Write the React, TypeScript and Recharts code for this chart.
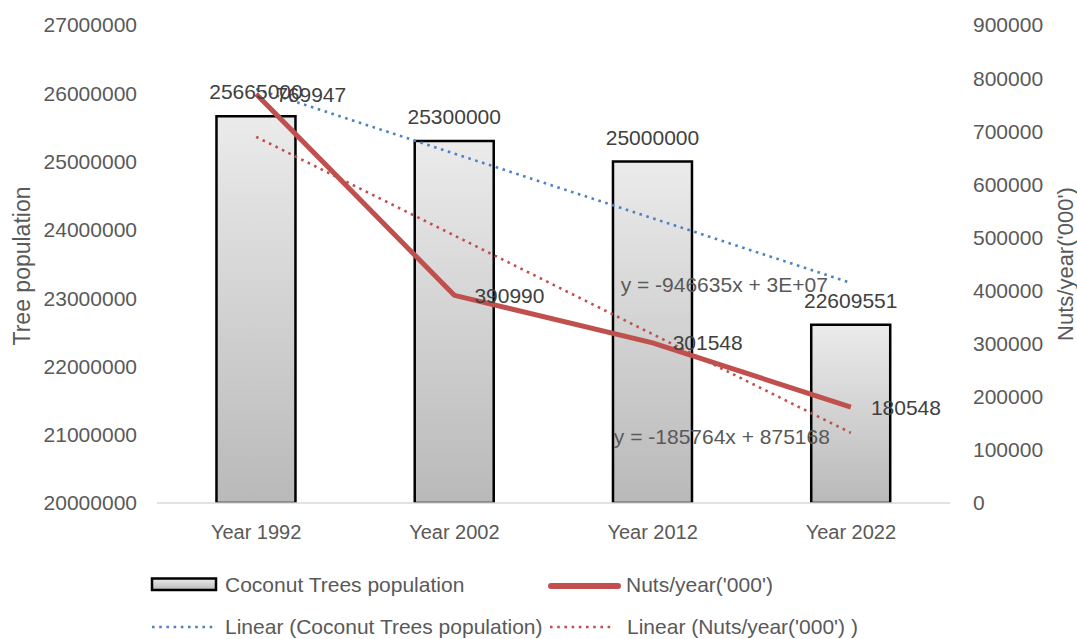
import React from 'react';
import { ComposedChart, Bar, Line, XAxis, YAxis, LabelList } from 'recharts';

const categories = ['Year 1992', 'Year 2002', 'Year 2012', 'Year 2022'];
const treePopulation = [25665000, 25300000, 25000000, 22609551];
const nutsPerYear = [769947, 390990, 301548, 180548];
// Trend-line values read from the displayed regression equations
const treeTrend = [26063590, 25116955, 24170320, 23223685];
const nutsTrend = [689404, 503640, 317876, 132112];
const leftTicks = [20000000, 21000000, 22000000, 23000000, 24000000, 25000000, 26000000, 27000000];
const rightTicks = [0, 100000, 200000, 300000, 400000, 500000, 600000, 700000, 800000, 900000];
const treeEquation = 'y = -946635x + 3E+07';
const nutsEquation = 'y = -185764x + 875168';
const seriesNames = ['Coconut Trees population', "Nuts/year('000')", 'Linear (Coconut Trees population)', "Linear (Nuts/year('000') )"];
const axisTitles = ['Tree population', "Nuts/year('000')"];

const data = categories.map((c, i) => ({
  name: c,
  trees: treePopulation[i],
  nuts: nutsPerYear[i],
  treeTrend: treeTrend[i],
  nutsTrend: nutsTrend[i],
}));

const FONT = '"Liberation Sans", Arial, sans-serif';
const TICK_COLOR = '#595959';
const LABEL_COLOR = '#404040';
const RED = '#c0504d';
const BLUE = '#4f81bd';

const makeEqLabel = (text: string, dx: number, dy: number) => (props: any) => {
  const { x, y, index } = props;
  if (index !== categories.length - 1) return null;
  return (
    <text x={x + dx} y={y + dy} textAnchor="end" dominantBaseline="central"
      fill={TICK_COLOR} fontSize={21} fontFamily={FONT}>{text}</text>
  );
};

const LeftTitle = (props: any) => {
  const vb = props.viewBox || {};
  const cx = vb.x - 15;
  const cy = vb.y + vb.height / 2 + 2;
  return (
    <text x={cx} y={cy} transform={`rotate(-90 ${cx} ${cy})`} textAnchor="middle" dominantBaseline="central"
      fill={TICK_COLOR} fontSize={23} fontFamily={FONT}>{axisTitles[0]}</text>
  );
};

const RightTitle = (props: any) => {
  const vb = props.viewBox || {};
  const cx = vb.x + vb.width + 25;
  const cy = vb.y + vb.height / 2;
  return (
    <text x={cx} y={cy} transform={`rotate(-90 ${cx} ${cy})`} textAnchor="middle" dominantBaseline="central"
      fill={TICK_COLOR} fontSize={22} fontFamily={FONT}>{axisTitles[1]}</text>
  );
};

const legendText: React.CSSProperties = {
  position: 'absolute', fontFamily: FONT, fontSize: 21, color: TICK_COLOR, lineHeight: '24px', whiteSpace: 'nowrap',
};

export default function App() {
  return (
    <div style={{ position: 'absolute', left: 0, top: 0, width: 1077, height: 639, background: '#fff' }}>
      <ComposedChart width={1077} height={639} data={data}
        margin={{ top: 25, right: 37, bottom: 96, left: 37 }}
        barCategoryGap="30%">
        <defs>
          <linearGradient id="barGrad" x1="0" y1="0" x2="0" y2="1">
            <stop offset="0%" stopColor="#ebebeb" />
            <stop offset="100%" stopColor="#b9b9b9" />
          </linearGradient>
        </defs>
        <XAxis dataKey="name" height={40} tickLine={false} tickSize={0} tickMargin={22}
          axisLine={{ stroke: '#d9d9d9', strokeWidth: 1.5 }}
          tick={{ fill: TICK_COLOR, fontSize: 20, fontFamily: FONT }} />
        <YAxis yAxisId="left" orientation="left" width={120} domain={[20000000, 27000000]} ticks={leftTicks}
          interval={0} axisLine={false} tickLine={false} tickSize={0} tickMargin={20} allowDataOverflow
          tick={{ fill: TICK_COLOR, fontSize: 21, fontFamily: FONT }}
          label={{ content: <LeftTitle /> } as any} />
        <YAxis yAxisId="right" orientation="right" width={90} domain={[0, 900000]} ticks={rightTicks}
          interval={0} axisLine={false} tickLine={false} tickSize={0} tickMargin={23} allowDataOverflow
          tick={{ fill: TICK_COLOR, fontSize: 21, fontFamily: FONT }}
          label={{ content: <RightTitle /> } as any} />
        <Bar yAxisId="left" dataKey="trees" name={seriesNames[0]} fill="url(#barGrad)" stroke="#000" strokeWidth={2.5}
          isAnimationActive={false}>
          <LabelList dataKey="trees" position="top" offset={17} fill={LABEL_COLOR} fontSize={21} fontFamily={FONT} />
        </Bar>
        <Line yAxisId="right" dataKey="nuts" name={seriesNames[1]} stroke={RED} strokeWidth={5} dot={false}
          type="linear" isAnimationActive={false}>
          <LabelList dataKey="nuts" position="right" offset={20} fill={LABEL_COLOR} fontSize={21} fontFamily={FONT} />
        </Line>
        <Line yAxisId="left" dataKey="treeTrend" name={seriesNames[2]} stroke={BLUE} strokeWidth={2.6}
          strokeDasharray="2.6 4.6" dot={false} type="linear" isAnimationActive={false}>
          <LabelList dataKey="treeTrend" content={makeEqLabel(treeEquation, -23, 2)} />
        </Line>
        <Line yAxisId="right" dataKey="nutsTrend" name={seriesNames[3]} stroke={RED} strokeWidth={2.6}
          strokeDasharray="2.6 4.6" dot={false} type="linear" isAnimationActive={false}>
          <LabelList dataKey="nutsTrend" content={makeEqLabel(nutsEquation, -21, 4)} />
        </Line>
      </ComposedChart>

      {/* Legend */}
      <svg style={{ position: 'absolute', left: 150, top: 576 }} width={70} height={17}>
        <defs>
          <linearGradient id="legGrad" x1="0" y1="0" x2="0" y2="1">
            <stop offset="0%" stopColor="#ebebeb" />
            <stop offset="100%" stopColor="#b9b9b9" />
          </linearGradient>
        </defs>
        <rect x={2} y={2.5} width={64} height={11.5} fill="url(#legGrad)" stroke="#000" strokeWidth={2.5} />
      </svg>
      <div style={{ ...legendText, left: 225, top: 573 }}>{seriesNames[0]}</div>

      <svg style={{ position: 'absolute', left: 548, top: 578 }} width={74} height={16}>
        <line x1={3} y1={8} x2={70} y2={8} stroke={RED} strokeWidth={6} strokeLinecap="round" />
      </svg>
      <div style={{ ...legendText, left: 626, top: 573 }}>{seriesNames[1]}</div>

      <svg style={{ position: 'absolute', left: 150, top: 620 }} width={70} height={14}>
        <line x1={2} y1={7} x2={64} y2={7} stroke={BLUE} strokeWidth={2.6} strokeDasharray="2.6 4.6" />
      </svg>
      <div style={{ ...legendText, left: 225, top: 615 }}>{seriesNames[2]}</div>

      <svg style={{ position: 'absolute', left: 548, top: 620 }} width={70} height={14}>
        <line x1={2} y1={7} x2={64} y2={7} stroke={RED} strokeWidth={2.6} strokeDasharray="2.6 4.6" />
      </svg>
      <div style={{ ...legendText, left: 627, top: 615 }}>{seriesNames[3]}</div>
    </div>
  );
}
